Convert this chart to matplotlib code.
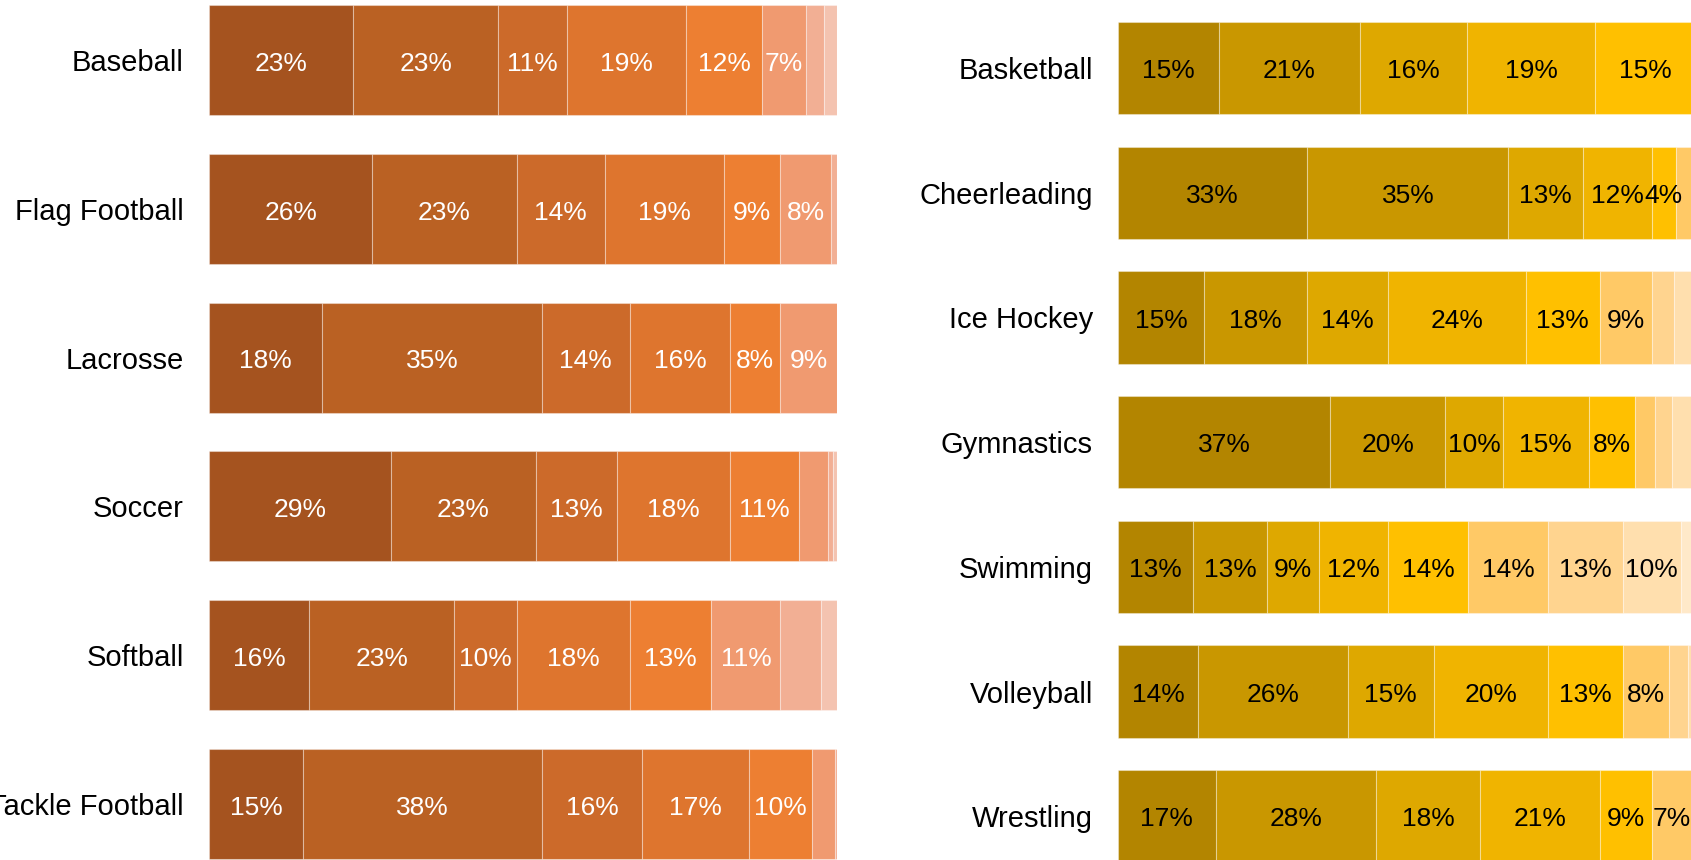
"""Stacked share bars for two groups of sports."""

import matplotlib.pyplot as plt
import numpy as np

plt.rcParams["font.family"] = ["Liberation Sans", "DejaVu Sans"]

# left group: shares (%) by segment
left_sports = ["Baseball", "Flag Football", "Lacrosse", "Soccer", "Softball", "Tackle Football"]
left_shares = [
    [23, 23, 11, 19, 12, 7, 3, 2],
    [26, 23, 14, 19, 9, 8, 1],
    [18, 35, 14, 16, 8, 9],
    [29, 23, 13, 18, 11, 4.6, 0.8, 0.6],
    [16, 23, 10, 18, 13, 11, 6.5, 2.5],
    [15, 38, 16, 17, 10, 3.7, 0.3],
]
left_colors = ["#A5531F", "#BA6123", "#CC6A2A", "#DE752E", "#ED7F32", "#F09A70", "#F2AF94", "#F4C3B0"]

# right group: shares (%) by segment, plus relative bar length per sport
right_sports = ["Basketball", "Cheerleading", "Ice Hockey", "Gymnastics", "Swimming", "Volleyball", "Wrestling"]
right_shares = [
    [15, 21, 16, 19, 15, 8, 6],
    [33, 35, 13, 12, 4.2, 2.8],
    [15, 18, 14, 24, 13, 9, 3.9, 3.1],
    [37, 20, 10, 15, 8, 3.6, 3, 3.4],
    [13, 13, 9, 12, 14, 14, 13, 10, 2],
    [14, 26, 15, 20, 13, 8, 3.3, 0.7],
    [17, 28, 18, 21, 9, 7],
]
right_totals = [117, 100, 100, 100, 100, 100, 100]
right_colors = ["#B38500", "#C99700", "#DEA800", "#F0B400", "#FFC000", "#FFC966", "#FFD48F", "#FFDFAE", "#FFE9C9"]

W, H = 1691, 860
fig = plt.figure(figsize=(W / 100, H / 100), dpi=100)


def draw_panel(ax, sports, shares, totals, colors, text_color, min_label):
    for i, (row, total) in enumerate(zip(shares, totals)):
        widths = np.array(row, dtype=float) * total / 100.0
        lefts = np.concatenate([[0], np.cumsum(widths)[:-1]])
        ax.barh([i] * len(widths), widths, left=lefts, height=0.74,
                color=colors[:len(widths)], edgecolor=(1, 1, 1, 0.35), linewidth=0.8)
        for v, l, w in zip(row, lefts, widths):
            # skip tiny slices and anything past the end of the axis
            if v >= min_label and l + w / 2 < 100:
                ax.text(l + w / 2, i + 0.025, f"{v:.0f}%", ha="center", va="center",
                        fontsize=19, color=text_color)
    ax.set_xlim(0, 100)
    ax.set_yticks(range(len(sports)))
    ax.set_yticklabels(sports, fontsize=21)
    ax.tick_params(axis="y", length=0, pad=18)
    ax.set_xticks([])
    for s in ax.spines.values():
        s.set_visible(False)


ax_l = fig.add_axes([209 / W, 0, 628 / W, 1])
draw_panel(ax_l, left_sports, left_shares, [100] * len(left_sports), left_colors, "white", 7)
ax_l.set_ylim(5.376, -0.403)

ax_r = fig.add_axes([1118 / W, 0, 574 / W, 1])
draw_panel(ax_r, right_sports, right_shares, right_totals, right_colors, "black", 4)
ax_r.set_ylim(6.351, -0.545)

fig.savefig("out.png", dpi=100)
